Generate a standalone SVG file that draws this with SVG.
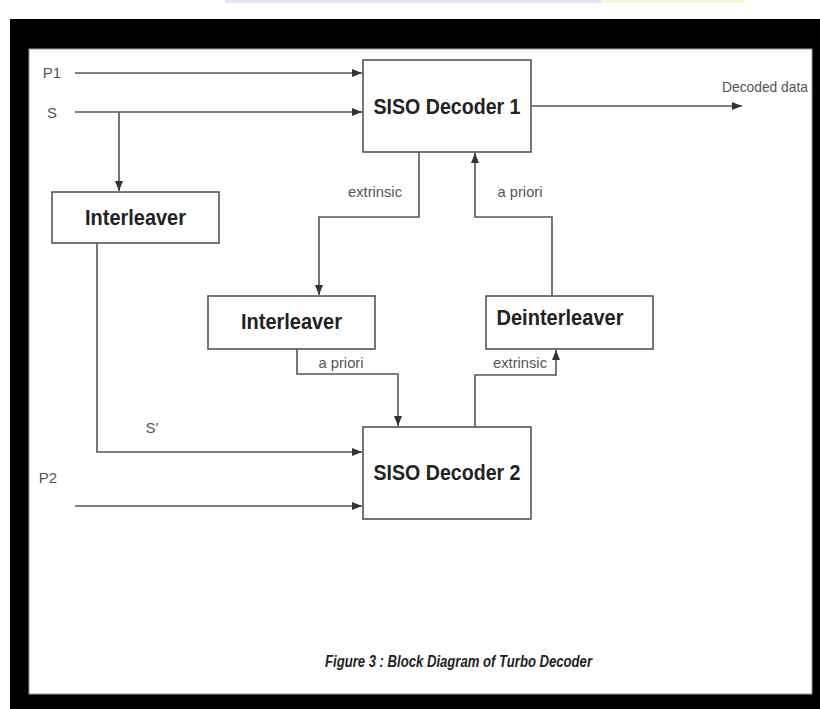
<svg xmlns="http://www.w3.org/2000/svg" width="820" height="709" viewBox="0 0 820 709">
<style>
.box{fill:#fff;stroke:#555;stroke-width:1.6}
.nt{font-family:"Liberation Sans",Arial,sans-serif;font-weight:bold;font-size:21.5px;fill:#222;text-anchor:middle}
.lb{font-family:"Liberation Sans",Arial,sans-serif;font-size:15px;fill:#555;text-anchor:middle}
.ln{fill:none;stroke:#555;stroke-width:1.6}
.cap{font-family:"Liberation Sans",Arial,sans-serif;font-weight:bold;font-style:italic;font-size:16px;fill:#222;text-anchor:middle}
</style>
<defs>
<marker id="ah" markerUnits="userSpaceOnUse" markerWidth="11" markerHeight="9" refX="10" refY="4" orient="auto">
<path d="M0,0 L10,4 L0,8 z" fill="#333"/>
</marker>
</defs>
<rect x="0" y="0" width="820" height="709" fill="#fff"/>
<rect x="225" y="0" width="377" height="3" fill="#dfe7f5"/>
<rect x="602" y="0" width="143" height="3" fill="#faf5d8"/>
<g id="frame">
<rect x="10" y="19" width="810" height="690" fill="#000"/>
<rect x="29" y="49" width="783" height="645" fill="#fff" stroke="#999" stroke-width="1"/>
</g>
<g id="connectors">
<path class="ln" d="M75,73 H362" marker-end="url(#ah)"/>
<path class="ln" d="M75,112 H362" marker-end="url(#ah)"/>
<path class="ln" d="M119,112 V191" marker-end="url(#ah)"/>
<path class="ln" d="M97,243 V452 H362" marker-end="url(#ah)"/>
<path class="ln" d="M75,506 H362" marker-end="url(#ah)"/>
<path class="ln" d="M419,152 V217 H319 V295" marker-end="url(#ah)"/>
<path class="ln" d="M297,349 V374 H398 V426" marker-end="url(#ah)"/>
<path class="ln" d="M475,427 V375 H556 V350" marker-end="url(#ah)"/>
<path class="ln" d="M552,296 V217 H475 V153" marker-end="url(#ah)"/>
<path class="ln" d="M531,106 H742" marker-end="url(#ah)"/>
</g>
<g id="labels">
<text class="lb" x="52" y="78">P1</text>
<text class="lb" x="52" y="118">S</text>
<text class="lb" x="48" y="483">P2</text>
<text class="lb" x="152" y="433">S'</text>
<text class="lb" x="375" y="197" textLength="54" lengthAdjust="spacingAndGlyphs">extrinsic</text>
<text class="lb" x="520" y="197" textLength="45" lengthAdjust="spacingAndGlyphs">a priori</text>
<text class="lb" x="341" y="368" textLength="45" lengthAdjust="spacingAndGlyphs">a priori</text>
<text class="lb" x="520" y="368" textLength="54" lengthAdjust="spacingAndGlyphs">extrinsic</text>
<text class="lb" x="765" y="92" textLength="86" lengthAdjust="spacingAndGlyphs">Decoded data</text>
</g>
<g id="siso1">
<rect class="box" x="363" y="60" width="168" height="92"/>
<text class="nt" x="447" y="114" textLength="147" lengthAdjust="spacingAndGlyphs">SISO Decoder 1</text>
</g>
<g id="interleaver1">
<rect class="box" x="52" y="192" width="167" height="51"/>
<text class="nt" x="135.5" y="225" textLength="101" lengthAdjust="spacingAndGlyphs">Interleaver</text>
</g>
<g id="interleaver2">
<rect class="box" x="208" y="296" width="167" height="53"/>
<text class="nt" x="291.5" y="329" textLength="101" lengthAdjust="spacingAndGlyphs">Interleaver</text>
</g>
<g id="deinterleaver">
<rect class="box" x="486" y="296" width="167" height="53"/>
<text class="nt" x="560" y="325" textLength="127" lengthAdjust="spacingAndGlyphs">Deinterleaver</text>
</g>
<g id="siso2">
<rect class="box" x="363" y="427" width="168" height="92"/>
<text class="nt" x="447" y="480" textLength="147" lengthAdjust="spacingAndGlyphs">SISO Decoder 2</text>
</g>
<text class="cap" x="458.5" y="667" textLength="267" lengthAdjust="spacingAndGlyphs">Figure 3 :  Block Diagram of Turbo Decoder</text>
</svg>
